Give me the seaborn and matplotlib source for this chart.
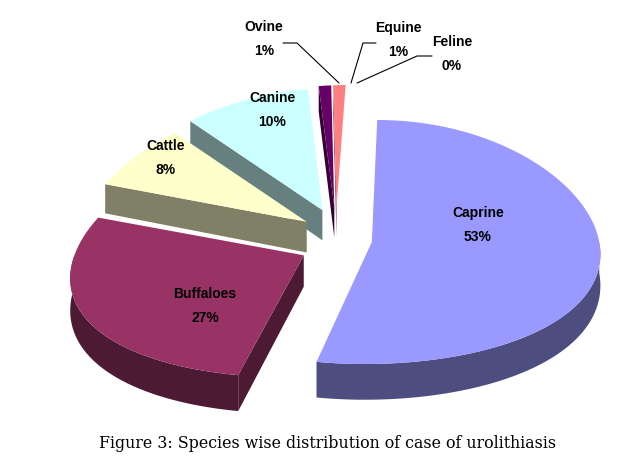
import numpy as np
import matplotlib
matplotlib.use("Agg")
import matplotlib.pyplot as plt
import seaborn as sns

# data
species = ["Caprine", "Buffaloes", "Cattle", "Canine", "Ovine", "Equine", "Feline"]
percent = [53, 27, 8, 10, 1, 1, 0]

colors = ["#9999FF", "#993366", "#FFFFCC", "#CCFFFF", "#660066", "#FF8080", "#0066CC"]

sns.set_style("white")
fig = plt.figure(figsize=(6.41, 4.72), dpi=100)
ax = fig.add_axes([0, 0, 1, 1])
ax.set_xlim(0, 641)
ax.set_ylim(472, 0)
ax.axis("off")

# 3d pie geometry (pixel space of the axes)
cx, cy, rx, ry = 336, 239, 227, 122
depth, explode, explode_y = 31, 0.159, 1.65
px, dist = 420, 8.0      # simple perspective: vanishing x and viewer distance


def project(ua, wa, theta, r=1.0, down=0.0):
    # theta in degrees, clockwise from 12 o'clock; (ua, wa) = slice offset
    t = np.radians(theta)
    u, w = np.sin(t), -np.cos(t)
    U = ua + r * u
    W = wa + r * w
    s = dist / (dist - W)
    x = px + (cx + rx * U - px) * s
    y = cy + ry * (explode_y * wa + r * w) + down * depth * (1 + 0.15 * W)
    return x, y


def darker(c, f=0.5):
    return tuple(np.array(matplotlib.colors.to_rgb(c)) * f)


total = sum(percent)
spans = np.array(percent) / total * 360
starts = np.concatenate([[0], np.cumsum(spans)[:-1]])

slices = []
for i, name in enumerate(species):
    if spans[i] == 0:
        continue
    a0, a1 = starts[i], starts[i] + spans[i]
    mid = np.radians((a0 + a1) / 2)
    ua, wa = explode * np.sin(mid), -explode * np.cos(mid)
    slices.append((wa, a0, a1, ua, colors[i]))

# back to front
for wa, a0, a1, ua, col in sorted(slices, key=lambda s: s[0]):
    side = darker(col)
    ax0, ay0 = project(ua, wa, 0, r=0)
    bx0, by0 = project(ua, wa, 0, r=0, down=1)
    # radial faces turned towards the viewer
    for a, visible in [(a0, np.sin(np.radians(a0)) < -1e-9), (a1, np.sin(np.radians(a1)) > 1e-9)]:
        if visible:
            qx, qy = project(ua, wa, a)
            rx2, ry2 = project(ua, wa, a, down=1)
            ax.fill([ax0, qx, rx2, bx0], [ay0, qy, ry2, by0], color=side, lw=0)
    # outer wall on the front half
    lo, hi = max(a0, 90), min(a1, 270)
    if hi > lo:
        th = np.linspace(lo, hi, 120)
        xs, ys = project(ua, wa, th)
        xb, yb = project(ua, wa, th, down=1)
        ax.fill(np.concatenate([xs, xb[::-1]]), np.concatenate([ys, yb[::-1]]),
                color=side, lw=0)
    # top surface
    th = np.linspace(a0, a1, 200)
    xs, ys = project(ua, wa, th)
    ax.fill(np.concatenate([[ax0], xs]), np.concatenate([[ay0], ys]), color=col, lw=0)

# data labels
label_xy = [(478, 225), (205, 306), (166, 158), (272, 110), (264, 39), (398, 40), (452, 54)]
for name, p, (lx, ly) in zip(species, percent, label_xy):
    ax.text(lx, ly - 12, name, ha="center", va="center", fontsize=10, color="black",
            fontweight="bold", family="Liberation Sans")
    ax.text(lx, ly + 12, f"{p}%", ha="center", va="center", fontsize=10, color="black",
            fontweight="bold", family="Liberation Sans")

# leader lines for the thin slices
leaders = [[(283, 43), (297, 43), (339, 83)],
           [(376, 43), (363, 43), (351, 83)],
           [(432, 56), (417, 56), (357, 83)]]
for seg in leaders:
    xs, ys = zip(*seg)
    ax.plot(xs, ys, color="black", lw=0.8)

fig.text(328 / 641, 1 - 443 / 472, "Figure 3: Species wise distribution of case of urolithiasis",
         ha="center", va="center", fontsize=11.4, color="black", family="DejaVu Serif")

fig.savefig("out.png", dpi=100)
